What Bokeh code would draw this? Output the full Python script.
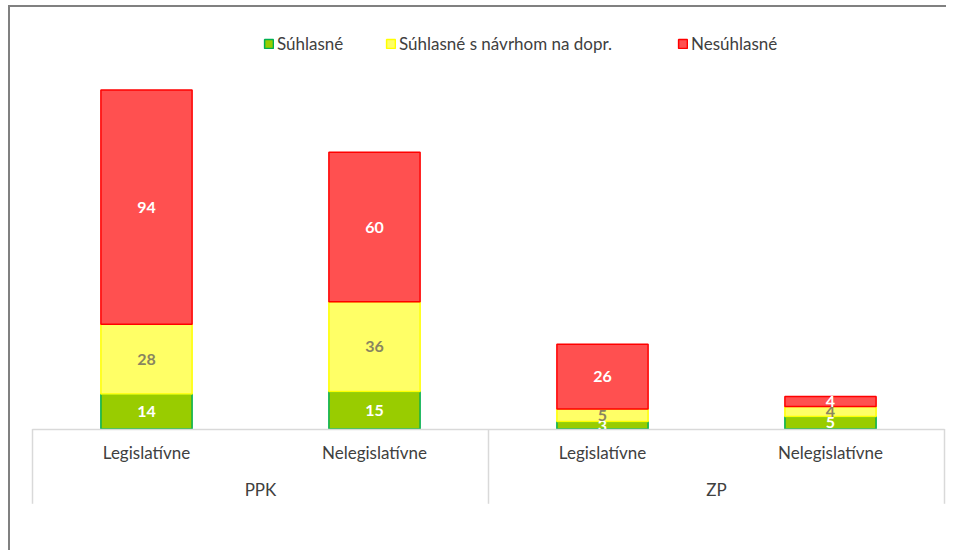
from bokeh.plotting import figure
from bokeh.models import (FactorRange, Range1d, CategoricalAxis, Legend, LegendItem,
                          ColumnDataSource, BoxAnnotation)
from bokeh.core.properties import value
from bokeh.embed import file_html
from bokeh.resources import INLINE

# ---- data ----
groups = ["PPK", "PPK", "ZP", "ZP"]
types = ["Legislatívne", "Nelegislatívne", "Legislatívne", "Nelegislatívne"]
suhlasne = [14, 15, 3, 5]
suhlasne_navrh = [28, 36, 5, 4]
nesuhlasne = [94, 60, 26, 4]
series_names = ["Súhlasné", "Súhlasné s návrhom na dopr.", "Nesúhlasné"]

# ---- styles ----
FONT = "Lato"
fills = ["#99cc00", "#ffff66", "#ff5050"]
lines = ["#00b050", "#ffff00", "#ff0000"]
label_colors = ["white", "#898560", "white"]
TEXT = "#404040"
GRID = "#d9d9d9"
PX_PER_UNIT = 2.493
FRAME_H = 545
BASE_Y = 421.5
SEP_DEPTH = 30

factors = list(zip(groups, types))
keys = ["s", "n", "x"]
data = dict(f=factors, s=suhlasne, n=suhlasne_navrh, x=nesuhlasne)
src = ColumnDataSource(data)

p = figure(width=938, height=FRAME_H, tools="",
           x_range=FactorRange(*factors, factor_padding=0, group_padding=0, range_padding=0.00877),
           y_range=Range1d(-(FRAME_H - BASE_Y) / PX_PER_UNIT, BASE_Y / PX_PER_UNIT),
           output_backend="svg", toolbar_location=None,
           x_axis_location=None, y_axis_location=None,
           min_border_left=18, min_border_right=0, min_border_top=0, min_border_bottom=0,
           outline_line_color=None, background_fill_color="white", border_fill_color="white")
p.toolbar.logo = None
p.grid.visible = False
p.styles = {"margin-left": "8px", "margin-top": "5px",
            "padding-left": "2px", "padding-top": "2px",
            "background": ("linear-gradient(#808080, #808080) left top / 2px 100% no-repeat, "
                           "linear-gradient(#808080, #808080) left top / 100% 2px no-repeat")}

rs = p.vbar_stack(keys, x="f", width=0.4, source=src,
                  fill_color=fills, line_color=lines, line_width=1.5)

# data labels
cum = [0] * len(factors)
for i, series in enumerate([suhlasne, suhlasne_navrh, nesuhlasne]):
    mids = [c + v / 2 for c, v in zip(cum, series)]
    cum = [c + v for c, v in zip(cum, series)]
    lsrc = ColumnDataSource(dict(f=factors, y=mids, t=[str(v) for v in series]))
    p.text(x="f", y="y", text="t", source=lsrc, text_color=label_colors[i],
           text_font=value(FONT), text_font_style="bold", text_font_size="16px",
           text_align="center", text_baseline="middle")

# mask below baseline (plot area clip)
p.add_layout(BoxAnnotation(top=0, fill_color="white", fill_alpha=1, line_color=None, level="glyph"))

# group separators
bounds = [0]
for g in dict.fromkeys(groups):
    bounds.append(bounds[-1] + groups.count(g))
p.segment(x0=bounds, x1=bounds, y0=[0] * len(bounds), y1=[-SEP_DEPTH] * len(bounds),
          line_color=GRID, line_width=1.5, level="guide")

xaxis = CategoricalAxis(fixed_location=0, bounds=(0, len(factors)))
xaxis.axis_line_color = GRID
xaxis.axis_line_width = 1.5
xaxis.major_tick_line_color = None
xaxis.major_tick_out = 0
xaxis.major_tick_in = 0
xaxis.minor_tick_line_color = None
xaxis.separator_line_color = None
xaxis.major_label_standoff = 13
xaxis.major_label_text_font = FONT
xaxis.major_label_text_font_size = "17px"
xaxis.major_label_text_color = TEXT
xaxis.group_text_font = FONT
xaxis.group_text_font_size = "17px"
xaxis.group_text_font_style = "normal"
xaxis.group_text_color = TEXT
p.add_layout(xaxis, "below")

# legends (one per entry, positioned like the original)
leg_x = [235, 357, 649]
for r, name, lx in zip(rs, series_names, leg_x):
    leg = Legend(items=[LegendItem(label=name, renderers=[r])], location=(lx, FRAME_H - 47),
                 orientation="horizontal", padding=0, margin=0, spacing=0,
                 glyph_width=11, glyph_height=11, label_standoff=3, label_height=20,
                 label_text_font=FONT, label_text_font_size="17px", label_text_color=TEXT,
                 border_line_color=None, background_fill_alpha=0)
    p.add_layout(leg, "center")

open("out.html", "w").write(file_html(p, INLINE))
